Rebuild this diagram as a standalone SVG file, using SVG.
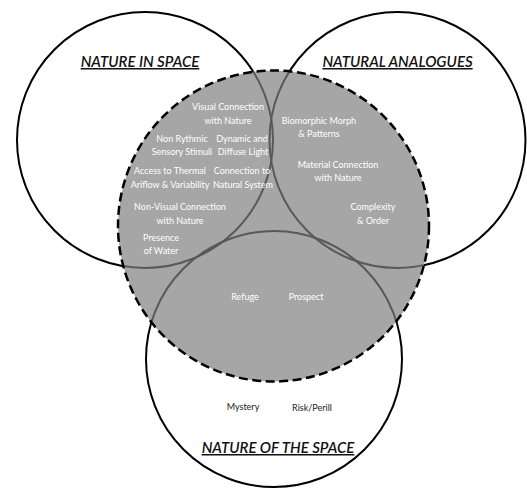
<svg xmlns="http://www.w3.org/2000/svg" width="527" height="488" viewBox="0 0 527 488">
<style>
.ring{fill:none;stroke:#000;stroke-width:2}
.inner{fill:none;stroke:#595959;stroke-width:2}
.title{font-family:Lato,"Liberation Sans",sans-serif;font-style:italic;font-weight:600;font-size:15px;fill:#111;text-decoration:underline;text-anchor:middle}
.lbl{font-family:Lato,"Liberation Sans",sans-serif;font-size:9px;fill:#fff;text-anchor:middle}
.dark{fill:#222}
</style>
<defs>
<clipPath id="core"><circle cx="273.5" cy="226" r="155.5"/></clipPath>
</defs>
<rect width="527" height="488" fill="#fff"/>
<g id="nature-in-space">
<circle class="ring" cx="145" cy="140" r="128"/>
<text class="title" x="140" y="67">NATURE IN SPACE</text>
</g>
<g id="natural-analogues">
<circle class="ring" cx="397.5" cy="140" r="128"/>
<text class="title" x="397.5" y="67">NATURAL ANALOGUES</text>
</g>
<g id="nature-of-the-space">
<circle class="ring" cx="274" cy="359" r="128"/>
<text class="title" x="278" y="453">NATURE OF THE SPACE</text>
</g>
<g id="core-area">
<circle cx="273.5" cy="226" r="155.5" fill="#a6a6a6"/>
<g clip-path="url(#core)">
<circle class="inner" cx="145" cy="140" r="128"/>
<circle class="inner" cx="397.5" cy="140" r="128"/>
<circle class="inner" cx="274" cy="359" r="128"/>
</g>
<circle cx="273.5" cy="226" r="155.5" fill="none" stroke="#000" stroke-width="2.5" stroke-dasharray="9 4.5"/>
</g>
<g id="labels">
<text class="lbl" x="228" y="110">Visual Connection</text>
<text class="lbl" x="228" y="124">with Nature</text>
<text class="lbl" x="182" y="142">Non Rythmic</text>
<text class="lbl" x="182" y="155">Sensory Stimuli</text>
<text class="lbl" x="242" y="142">Dynamic and</text>
<text class="lbl" x="243" y="155">Diffuse Light</text>
<text class="lbl" x="170" y="174">Access to Thermal</text>
<text class="lbl" x="170" y="188">Ariflow &amp; Variability</text>
<text class="lbl" x="242" y="174">Connection to</text>
<text class="lbl" x="243" y="188">Natural System</text>
<text class="lbl" x="319" y="124">Biomorphic Morph</text>
<text class="lbl" x="319" y="137">&amp; Patterns</text>
<text class="lbl" x="338" y="168">Material Connection</text>
<text class="lbl" x="338" y="181">with Nature</text>
<text class="lbl" x="373" y="210">Complexity</text>
<text class="lbl" x="373" y="224">&amp; Order</text>
<text class="lbl" x="180" y="210">Non-Visual Connection</text>
<text class="lbl" x="180" y="224">with Nature</text>
<text class="lbl" x="161" y="241">Presence</text>
<text class="lbl" x="161" y="254">of Water</text>
<text class="lbl" x="245" y="300">Refuge</text>
<text class="lbl" x="306" y="300">Prospect</text>
<text class="lbl dark" x="243" y="410">Mystery</text>
<text class="lbl dark" x="312" y="411">Risk/Perill</text>
</g>
</svg>
